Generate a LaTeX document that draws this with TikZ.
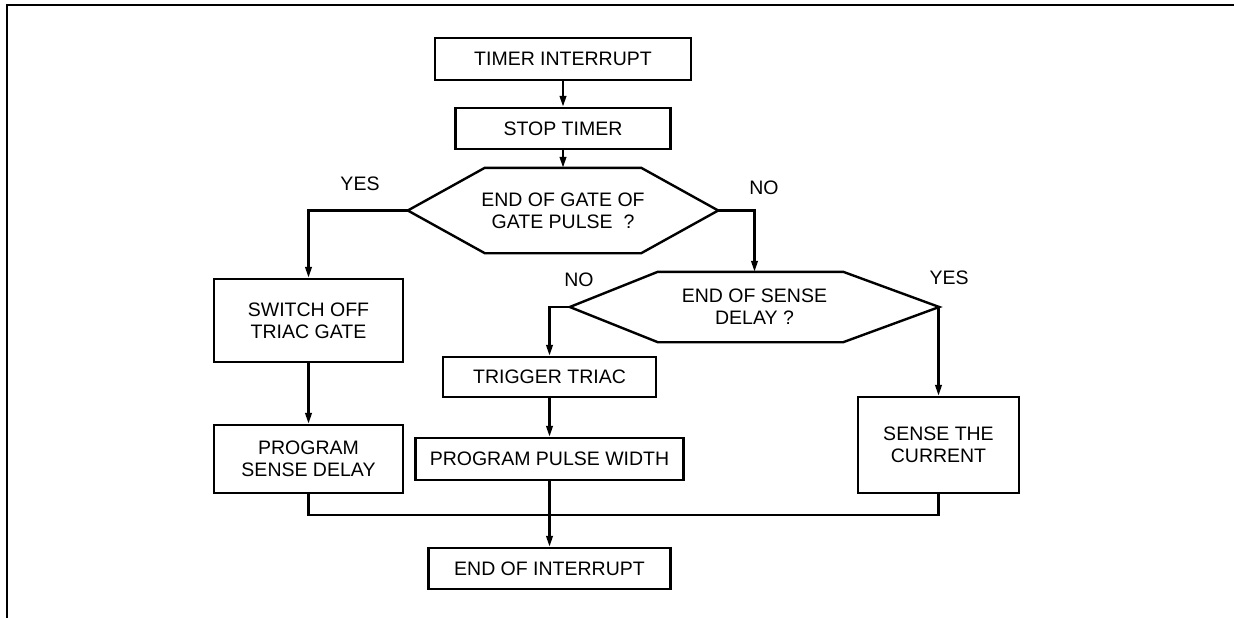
\documentclass[tikz,border=0pt]{standalone}
\usepackage{fontspec}
\setmainfont{Liberation Sans}
\usetikzlibrary{arrows.meta}

\tikzset{
  box/.style={draw, line width=2.4pt, align=center, inner sep=0pt},
  hexbox/.style={align=center, inner sep=0pt},
  lbl/.style={inner sep=0pt},
}

\begin{document}
\begin{tikzpicture}[x=1pt, y=-1pt, line width=2.4pt, >={Triangle[length=11pt,width=6.5pt]}, font=\fontsize{19.5}{22}\selectfont]
        \useasboundingbox (0,0) rectangle (1234,618);
        \draw[line width=1.5pt] (7,618) -- (7,5) -- (1234,5);

        \node[box, minimum width=256pt, minimum height=42pt] (timer) at (563,59) {TIMER INTERRUPT};
        \node[box, minimum width=215pt, minimum height=41pt] (stop) at (563,128.5) {STOP TIMER};

        \node[hexbox, minimum width=308pt, minimum height=83pt] (gate) at (563,210.5) {END OF GATE OF\\GATE PULSE\ \ ?};
        \draw (gate.west) -- ([xshift=77pt]gate.north west) -- ([xshift=-77pt]gate.north east) -- (gate.east)
              -- ([xshift=-77pt]gate.south east) -- ([xshift=77pt]gate.south west) -- cycle;

        \node[hexbox, minimum width=367pt, minimum height=68pt] (sense) at (754.5,307) {END OF SENSE\\DELAY ?};
        \draw (sense.west) -- ([xshift=88pt]sense.north west) -- ([xshift=-96pt]sense.north east) -- (sense.east)
              -- ([xshift=-96pt]sense.south east) -- ([xshift=88pt]sense.south west) -- cycle;

        \node[box, minimum width=189pt, minimum height=83pt] (switch) at (308.5,320.5) {SWITCH OFF\\TRIAC GATE};
        \node[box, minimum width=189pt, minimum height=68pt] (progsense) at (308.5,459) {PROGRAM\\SENSE DELAY};
        \node[box, minimum width=213pt, minimum height=40pt] (trigger) at (549.5,377) {TRIGGER TRIAC};
        \node[box, minimum width=268pt, minimum height=42pt] (pulse) at (549.5,459) {PROGRAM PULSE WIDTH};
        \node[box, minimum width=161pt, minimum height=96pt] (current) at (938.5,445) {SENSE THE\\CURRENT};
        \node[box, minimum width=242pt, minimum height=41pt] (endint) at (549.5,568.5) {END OF INTERRUPT};

        \node[lbl] (yesgate) at (360,184) {YES};
        \node[lbl] (nogate) at (764,188) {NO};
        \node[lbl] (nosense) at (579,280) {NO};
        \node[lbl] (yessense) at (949,278) {YES};

        \draw[->] (timer) -- (stop);
        \draw[->] (stop) -- (gate.north);
        \draw[->] (gate.west) -| (switch.north);
        \draw[->] (gate.east) -| (sense.north);
        \draw[->] (switch) -- (progsense);
        \draw[->] (sense.west) -| (trigger.north);
        \draw[->] (sense.east) -| (current.north);
        \draw[->] (trigger) -- (pulse);
        \draw (progsense.south) -- ++(0,21) -| (current.south);
        \draw[->] (pulse) -- (endint);

        \end{tikzpicture}
\end{document}
